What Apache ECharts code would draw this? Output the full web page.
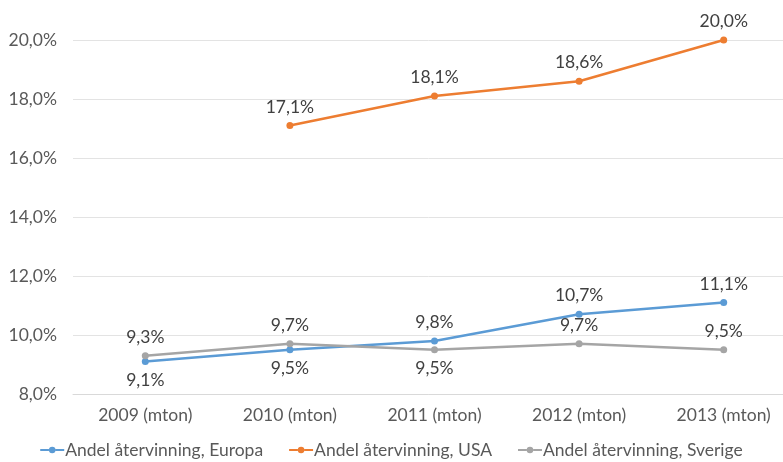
<!DOCTYPE html>
<html>
<head>
<meta charset="utf-8">
<script src="https://cdn.jsdelivr.net/npm/echarts@6/dist/echarts.min.js"></script>
<style>
  html, body { margin: 0; padding: 0; background: #fff; }
  #chart { width: 783px; height: 462px; }
</style>
</head>
<body>
<div id="chart"></div>
<script>
const categories = ["2009 (mton)", "2010 (mton)", "2011 (mton)", "2012 (mton)", "2013 (mton)"];
const europa = [9.1, 9.5, 9.8, 10.7, 11.1];
const usa = [null, 17.1, 18.1, 18.6, 20.0];
const sverige = [9.3, 9.7, 9.5, 9.7, 9.5];
// label side per point for the two lower series
const europaPos = ["bottom", "bottom", "top", "top", "top"];
const sverigePos = ["top", "top", "bottom", "top", "top"];

const font = "Lato, 'Open Sans', sans-serif";
const fs = 17.5;
const fmt = v => v.toFixed(1).replace(".", ",") + "%";
const legendIcon = "path://M0,4 L8,4 L8,6 L0,6 Z M14,4 L22,4 L22,6 L14,6 Z M8,5 a3,3 0 1,0 6,0 a3,3 0 1,0 -6,0 Z";

function withLabels(vals, pos) {
  return vals.map((v, i) => ({
    value: v,
    label: { position: pos[i] }
  }));
}

function lineSeries(name, color, data) {
  return {
    name: name,
    type: "line",
    data: data,
    symbol: "circle",
    symbolSize: 7,
    lineStyle: { width: 2.5, color: color },
    itemStyle: { color: color },
    label: {
      show: true,
      position: "top",
      distance: 6,
      color: "#404040",
      fontFamily: font,
      fontSize: fs,
      formatter: p => fmt(p.value)
    },
    emphasis: { disabled: true }
  };
}

const chart = echarts.init(document.getElementById("chart"));
chart.setOption({
  animation: false,
  color: ["#5B9BD5", "#ED7D31", "#A5A5A5"],
  grid: { left: 73, width: 723, top: 40, bottom: 68, containLabel: false, outerBoundsMode: "none" },
  legend: {
    top: 436,
    left: "center",
    itemWidth: 24,
    itemHeight: 9,
    itemGap: 26,
    itemStyle: { borderWidth: 0 },
    textStyle: { color: "#595959", fontFamily: font, fontSize: fs, padding: [0, 0, 0, -4] },
    data: [
      { name: "Andel återvinning, Europa", icon: legendIcon },
      { name: "Andel återvinning, USA", icon: legendIcon },
      { name: "Andel återvinning, Sverige", icon: legendIcon }
    ]
  },
  xAxis: {
    type: "category",
    data: categories,
    boundaryGap: true,
    axisLine: { lineStyle: { color: "#d9d9d9" } },
    axisTick: { show: false },
    axisLabel: { color: "#595959", fontFamily: font, fontSize: fs, margin: 12 }
  },
  yAxis: {
    type: "value",
    min: 8,
    max: 20,
    interval: 2,
    axisLine: { show: false },
    axisTick: { show: false },
    splitLine: { lineStyle: { color: "#e3e3e3" } },
    axisLabel: { color: "#595959", fontFamily: font, fontSize: fs, margin: 16, formatter: v => fmt(v) }
  },
  series: [
    lineSeries("Andel återvinning, Europa", "#5B9BD5", withLabels(europa, europaPos)),
    lineSeries("Andel återvinning, USA", "#ED7D31", usa),
    lineSeries("Andel återvinning, Sverige", "#A5A5A5", withLabels(sverige, sverigePos))
  ]
});
</script>
</body>
</html>
